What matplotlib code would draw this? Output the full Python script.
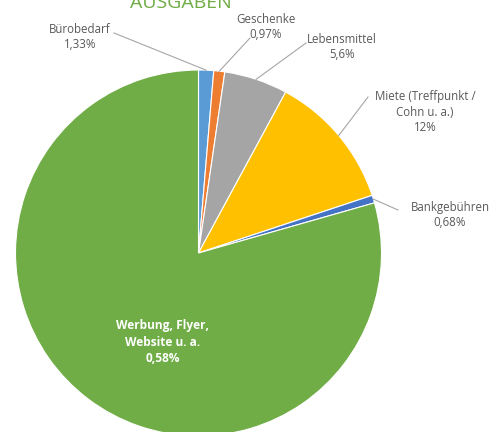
import numpy as np
import matplotlib
matplotlib.use("Agg")
import matplotlib.pyplot as plt

categories = ["Bürobedarf", "Geschenke", "Lebensmittel",
              "Miete (Treffpunkt /\nCohn u. a.)", "Bankgebühren",
              "Werbung, Flyer,\nWebsite u. a."]
values = [1.33, 0.97, 5.6, 12.0, 0.68, 79.42]
value_labels = ["1,33%", "0,97%", "5,6%", "12%", "0,68%", "0,58%"]
colors = ["#5B9BD5", "#ED7D31", "#A5A5A5", "#FFC000", "#4472C4", "#70AD47"]

W, H = 502, 432
fig = plt.figure(figsize=(W / 100, H / 100), dpi=100)
ax = fig.add_axes([0, 0, 1, 1])
ax.set_xlim(0, W)
ax.set_ylim(0, H)
ax.set_aspect("equal")
ax.axis("off")

cx, cy, R = 198.5, H - 253, 183
wedges, _ = ax.pie(values, colors=colors, startangle=90, counterclock=False,
                   radius=R, center=(cx, cy),
                   wedgeprops=dict(edgecolor="white", linewidth=0.8))
ax.set_xlim(0, W)
ax.set_ylim(0, H)

font = "Open Sans"
tc = "#595959"
fs = 8.3

# label positions (pixel coords from top) and line ends
label_pos = [(80, 37), (266, 27), (342, 47), (425, 112), (450, 215)]
line_end = [(114, 33), (250, 38), (306, 43), (368, 97), (398, 210)]

for i in range(5):
    w = wedges[i]
    mid = np.deg2rad((w.theta1 + w.theta2) / 2)
    ax0 = cx + R * np.cos(mid)
    ay0 = cy + R * np.sin(mid)
    lx, ly = label_pos[i]
    ex, ey = line_end[i]
    ey = H - ey
    ax.plot([ax0, ex], [ay0, ey], color="#A6A6A6", lw=0.8)
    ax.text(lx, H - ly, categories[i] + "\n" + value_labels[i], ha="center",
            va="center", fontsize=fs, color=tc, family=font, linespacing=1.25)

ax.text(163, H - 342, categories[5] + "\n" + value_labels[5], ha="center",
        va="center", fontsize=8.6, color="white", family=font,
        fontweight="bold", linespacing=1.3)

ax.text(181, H + 6, "AUSGABEN", ha="center", va="top", fontsize=14,
        color="#70AD47", family=font)

fig.savefig("out.png", dpi=100)
